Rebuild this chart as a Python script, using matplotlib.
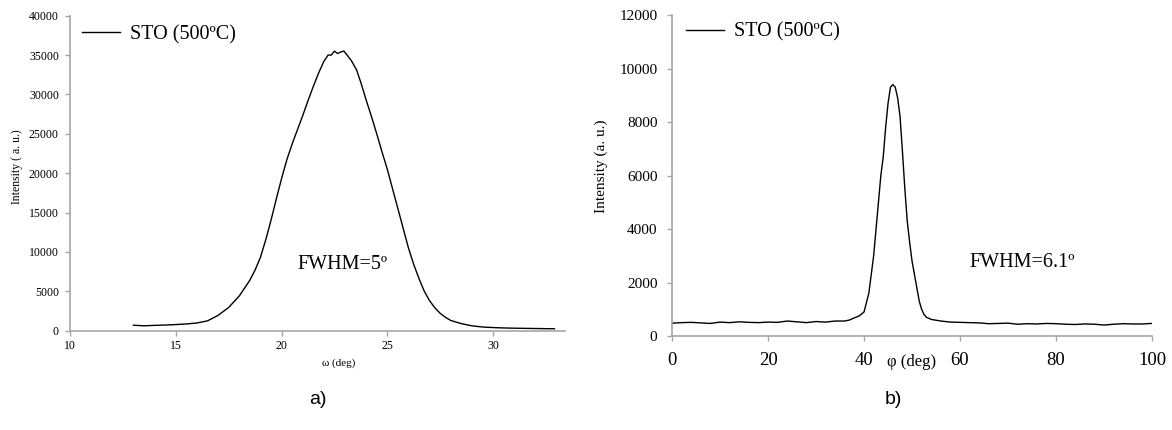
import matplotlib
matplotlib.use("Agg")
import matplotlib.pyplot as plt

plt.rcParams['font.family'] = ['Liberation Serif', 'DejaVu Serif']

# panel a) omega scan
omega = [13.0, 13.5, 14.0, 14.5, 15.0, 15.5, 16.0, 16.5, 17.0, 17.5, 18.0, 18.5,
         18.75, 19.0, 19.25, 19.5, 19.75, 20.0, 20.25, 20.5, 20.75, 21.0, 21.25, 21.5,
         21.75, 22.0, 22.2, 22.35, 22.5, 22.65, 22.8, 22.95, 23.1, 23.3, 23.55, 23.75,
         24.0, 24.25, 24.5, 24.75, 25.0, 25.25, 25.5, 25.75, 26.0, 26.25, 26.5, 26.75,
         27.0, 27.25, 27.5, 27.75, 28.0, 28.5, 29.0, 29.5, 30.0, 30.5, 31.0, 31.5,
         32.0, 32.5, 32.9]
int_omega = [700, 620, 680, 720, 780, 860, 980, 1250, 1950, 2950, 4400, 6400,
             7700, 9300, 11500, 14000, 16700, 19300, 21700, 23700, 25500, 27300, 29200, 31000,
             32700, 34200, 35000, 35000, 35500, 35200, 35400, 35500, 35000, 34300, 33100, 31500,
             29300, 27200, 25000, 22700, 20500, 18000, 15500, 13000, 10500, 8400, 6600, 5000,
             3800, 2900, 2200, 1700, 1300, 900, 620, 470, 400, 350, 320, 300,
             280, 260, 250]

# panel b) phi scan
phi = [0, 2, 4, 6, 8, 10, 12, 14, 16, 18, 20, 22, 24, 26, 28, 30, 32, 34, 36, 37,
       38, 39, 40, 41, 41.5, 42, 42.5, 43, 43.5, 44, 44.5, 45, 45.5, 46, 46.5, 47,
       47.5, 48, 48.5, 49, 49.5, 50, 50.5, 51, 51.5, 52, 52.5, 53, 54, 56, 58, 60,
       62, 64, 66, 68, 70, 72, 74, 76, 78, 80, 82, 84, 86, 88, 90, 92, 94, 96, 98, 100]
int_phi = [480, 500, 510, 490, 470, 520, 500, 530, 510, 500, 520, 510, 560, 530, 500, 540,
           520, 560, 560, 600, 680, 750, 900, 1600, 2300, 3000, 4000, 5000, 6000, 6700,
           7800, 8700, 9300, 9400, 9300, 8900, 8200, 6900, 5500, 4300, 3500, 2800, 2300,
           1800, 1300, 1000, 800, 700, 620, 560, 520, 510, 500, 490, 460, 470, 480, 440,
           460, 450, 470, 460, 440, 430, 450, 440, 410, 440, 460, 450, 450, 470]

legend_label = 'STO (500ºC)'
axis_grey = '#a6a6a6'

fig = plt.figure(figsize=(11.72, 4.30), dpi=100)
ax1 = fig.add_axes([0.0597, 0.2309, 0.4224, 0.7326])
ax2 = fig.add_axes([0.5734, 0.2186, 0.4096, 0.7465])


def style_axis(ax, xsize, ysize, ypad, xpad):
    for s in ['top', 'right']:
        ax.spines[s].set_visible(False)
    for s in ['left', 'bottom']:
        ax.spines[s].set_color(axis_grey)
        ax.spines[s].set_linewidth(1.2)
    ax.tick_params(axis='both', direction='out', length=3.5, width=1.0, color=axis_grey)
    ax.tick_params(axis='x', labelsize=xsize, pad=xpad)
    ax.tick_params(axis='y', labelsize=ysize, pad=ypad)


# a)
ax1.plot(omega, int_omega, color='black', linewidth=1.0, label=legend_label)
ax1.set_xlim(10, 33.4)
ax1.set_ylim(0, 40000)
ax1.set_xticks(range(10, 31, 5))
ax1.set_yticks(range(0, 40001, 5000))
style_axis(ax1, 8.5, 8.5, 4.5, 3.5)
ax1.set_xlabel('ω (deg)', fontsize=8)
ax1.xaxis.set_label_coords(0.543, -0.102)
ax1.xaxis.label.set_va('center')
ax1.set_ylabel('Intensity ( a. u.)', fontsize=8.5)
ax1.yaxis.set_label_coords(-0.107, 0.52)
ax1.yaxis.label.set_va('center')
ax1.text(22.88, 8470, 'FWHM=5º', fontsize=14.5, ha='center', va='center')
ax1.legend(loc='center left', bbox_to_anchor=(0.024, 0.939), frameon=False,
           fontsize=14.5, handlelength=1.9, handletextpad=0.5,
           borderpad=0, borderaxespad=0)

# b)
ax2.plot(phi, int_phi, color='black', linewidth=1.0, label=legend_label)
ax2.set_xlim(0, 100)
ax2.set_ylim(0, 12000)
ax2.set_xticks(range(0, 101, 20))
ax2.set_yticks(range(0, 12001, 2000))
style_axis(ax2, 13.5, 11, 7, 8)
ax2.set_xlabel('φ (deg)', fontsize=12)
ax2.xaxis.set_label_coords(0.498, -0.081)
ax2.xaxis.label.set_va('center')
ax2.set_ylabel('Intensity (a. u.)', fontsize=11)
ax2.yaxis.set_label_coords(-0.148, 0.53)
ax2.yaxis.label.set_va('center')
ax2.text(72.9, 2766, 'FWHM=6.1º', fontsize=14.5, ha='center', va='center')
ax2.legend(loc='center left', bbox_to_anchor=(0.029, 0.947), frameon=False,
           fontsize=14.5, handlelength=1.9, handletextpad=0.5,
           borderpad=0, borderaxespad=0)

fig.text(318 / 1172, 1 - 400 / 430, 'a)', fontsize=14, family='Liberation Sans',
         ha='center', va='center')
fig.text(893 / 1172, 1 - 400 / 430, 'b)', fontsize=14, family='Liberation Sans',
         ha='center', va='center')

fig.savefig('out.png', dpi=100)
